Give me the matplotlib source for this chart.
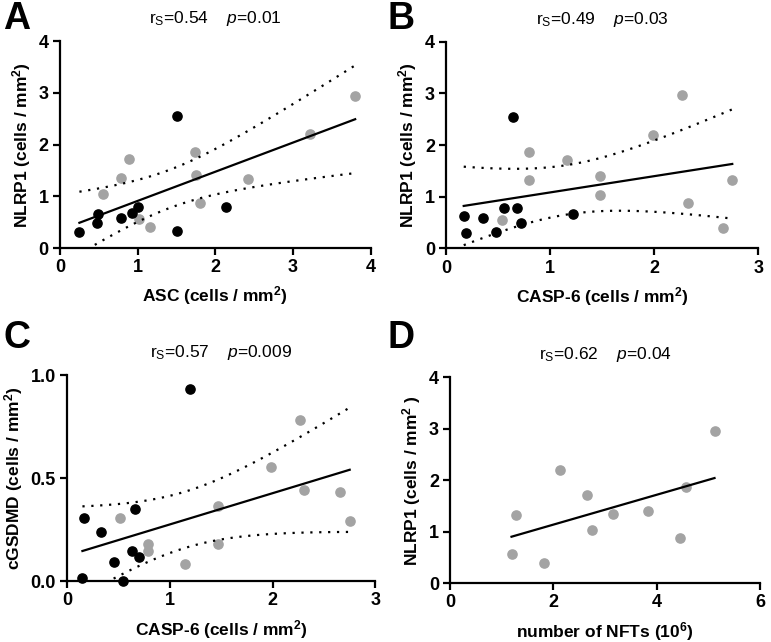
import matplotlib
matplotlib.use("Agg")
import matplotlib.pyplot as plt
import numpy as np

plt.rcParams['font.family'] = ['Liberation Sans', 'DejaVu Sans']
plt.rcParams['mathtext.fontset'] = 'custom'
plt.rcParams['mathtext.rm'] = 'Liberation Sans'
plt.rcParams['mathtext.it'] = 'Liberation Sans:italic'
plt.rcParams['mathtext.bf'] = 'Liberation Sans:bold'

# panel A: ASC vs NLRP1
a_black_x = [0.25, 0.49, 0.48, 0.78, 0.93, 1.00, 1.51, 1.51, 2.14]
a_black_y = [0.31, 0.65, 0.49, 0.59, 0.67, 0.79, 2.56, 0.33, 0.79]
a_gray_x = [0.55, 0.78, 0.89, 1.02, 1.16, 1.74, 1.75, 1.80, 2.42, 3.22, 3.80]
a_gray_y = [1.04, 1.35, 1.72, 0.56, 0.40, 1.86, 1.41, 0.87, 1.33, 2.20, 2.95]

# panel B: CASP-6 vs NLRP1
b_black_x = [0.17, 0.19, 0.36, 0.48, 0.56, 0.64, 0.68, 0.72, 1.22]
b_black_y = [0.63, 0.30, 0.58, 0.32, 0.78, 2.55, 0.78, 0.49, 0.67]
b_gray_x = [0.54, 0.80, 0.80, 1.16, 1.48, 1.48, 1.99, 2.27, 2.32, 2.66, 2.75]
b_gray_y = [0.55, 1.86, 1.32, 1.71, 1.40, 1.03, 2.19, 2.96, 0.87, 0.39, 1.33]

# panel C: CASP-6 vs cGSDMD
c_black_x = [0.15, 0.17, 0.33, 0.46, 0.54, 0.63, 0.66, 0.70, 1.20]
c_black_y = [0.018, 0.306, 0.24, 0.095, 0.0, 0.147, 0.35, 0.118, 0.934]
c_gray_x = [0.52, 0.79, 0.79, 1.15, 1.47, 1.47, 1.98, 2.27, 2.31, 2.66, 2.75]
c_gray_y = [0.306, 0.181, 0.146, 0.086, 0.364, 0.181, 0.555, 0.782, 0.442, 0.434, 0.291]

# panel D: NFTs vs NLRP1
d_gray_x = [1.19, 1.27, 1.81, 2.12, 2.65, 2.74, 3.15, 3.83, 4.45, 4.57, 5.12]
d_gray_y = [0.57, 1.33, 0.40, 2.20, 1.71, 1.04, 1.35, 1.41, 0.87, 1.86, 2.95]

GRAY = '#a3a3a3'
# two-sided 99% t values
T995 = {18: 2.878, 9: 3.250}


def fit_panel(ax, x, y, show_ci=True):
    x = np.asarray(x); y = np.asarray(y)
    n = len(x)
    slope, icpt = np.polyfit(x, y, 1)
    xs = np.linspace(x.min(), x.max(), 100)
    yh = icpt + slope * xs
    ax.plot(xs, yh, color='black', lw=1.6, zorder=3)
    if show_ci:
        resid = y - (icpt + slope * x)
        s = np.sqrt(np.sum(resid ** 2) / (n - 2))
        sxx = np.sum((x - x.mean()) ** 2)
        half = T995[n - 2] * s * np.sqrt(1 / n + (xs - x.mean()) ** 2 / sxx)
        ax.plot(xs, yh + half, color='black', lw=1.6, ls=(0, (1, 3)), zorder=3)
        ax.plot(xs, yh - half, color='black', lw=1.6, ls=(0, (1, 3)), zorder=3)


def style(ax, xlim, ylim, xticks, yticks, yfmt, xlabel, ylabel, title):
    for s in ['top', 'right']:
        ax.spines[s].set_visible(False)
    for s in ['left', 'bottom']:
        ax.spines[s].set_linewidth(1.6)
    ax.set_xlim(xlim)
    ax.set_ylim(ylim)
    ax.set_xticks(xticks)
    ax.set_yticks(yticks)
    ax.set_yticklabels([yfmt.format(v) for v in yticks])
    ax.tick_params(width=1.6, length=5, labelsize=13, pad=3)
    for lab in ax.get_xticklabels() + ax.get_yticklabels():
        lab.set_fontweight('bold')
    ax.set_xlabel(xlabel, fontsize=12.5, fontweight='bold', labelpad=6)
    ax.set_ylabel(ylabel, fontsize=12.5, fontweight='bold', labelpad=4)
    ax.set_title(title, fontsize=12.5, pad=13)


fig = plt.figure(figsize=(7.71, 6.42), dpi=100)
axA = fig.add_axes([0.0778, 0.6137, 0.403, 0.322])
axB = fig.add_axes([0.5785, 0.6130, 0.405, 0.322])
axC = fig.add_axes([0.0869, 0.0945, 0.400, 0.321])
axD = fig.add_axes([0.5837, 0.0914, 0.402, 0.321])

ms = 44
axA.scatter(a_gray_x, a_gray_y, s=ms, color=GRAY, zorder=2, clip_on=False)
axA.scatter(a_black_x, a_black_y, s=ms, color='black', zorder=2, clip_on=False)
fit_panel(axA, a_black_x + a_gray_x, a_black_y + a_gray_y)
style(axA, (0, 4), (0, 4), [0, 1, 2, 3, 4], [0, 1, 2, 3, 4], '{:.0f}',
      r'ASC (cells / mm$^{\mathbf{2}}$)', r'NLRP1 (cells / mm$^{\mathbf{2}}$)',
      r'r$_{\mathrm{S}}$=0.54    $\mathit{p}$=0.01')

axB.scatter(b_gray_x, b_gray_y, s=ms, color=GRAY, zorder=2, clip_on=False)
axB.scatter(b_black_x, b_black_y, s=ms, color='black', zorder=2, clip_on=False)
fit_panel(axB, b_black_x + b_gray_x, b_black_y + b_gray_y)
style(axB, (0, 3), (0, 4), [0, 1, 2, 3], [0, 1, 2, 3, 4], '{:.0f}',
      r'CASP-6 (cells / mm$^{\mathbf{2}}$)', r'NLRP1 (cells / mm$^{\mathbf{2}}$)',
      r'r$_{\mathrm{S}}$=0.49    $\mathit{p}$=0.03')

axC.scatter(c_gray_x, c_gray_y, s=ms, color=GRAY, zorder=2, clip_on=False)
axC.scatter(c_black_x, c_black_y, s=ms, color='black', zorder=2, clip_on=False)
fit_panel(axC, c_black_x + c_gray_x, c_black_y + c_gray_y)
style(axC, (0, 3), (0, 1), [0, 1, 2, 3], [0, 0.5, 1.0], '{:.1f}',
      r'CASP-6 (cells / mm$^{\mathbf{2}}$)', r'cGSDMD (cells / mm$^{\mathbf{2}}$)',
      r'r$_{\mathrm{S}}$=0.57    $\mathit{p}$=0.009')

axD.scatter(d_gray_x, d_gray_y, s=ms, color=GRAY, zorder=2, clip_on=False)
fit_panel(axD, d_gray_x, d_gray_y, show_ci=False)
style(axD, (0, 6), (0, 4), [0, 2, 4, 6], [0, 1, 2, 3, 4], '{:.0f}',
      r'number of NFTs (10$^{\mathbf{6}}$)', r'NLRP1 (cells / mm$^{\mathbf{2}}$ )',
      r'r$_{\mathrm{S}}$=0.62    $\mathit{p}$=0.04')

for lab, (x, y) in zip('ABCD', [(0.004, 0.998), (0.503, 0.998), (0.004, 0.502), (0.503, 0.502)]):
    fig.text(x, y, lab, fontsize=27, fontweight='bold', va='top', ha='left')

fig.savefig('out.png', dpi=100)
